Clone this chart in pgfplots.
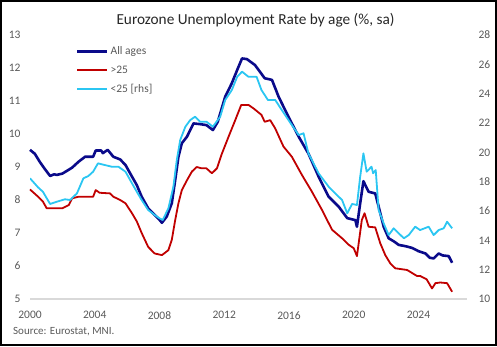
\documentclass[border=0pt]{standalone}
\usepackage{pgfplots}
\pgfplotsset{compat=1.18}
\usepackage{fontspec}
\setmainfont{Carlito}
\definecolor{navy}{HTML}{0A0A8A}
\definecolor{dred}{HTML}{C00000}
\definecolor{cyanl}{HTML}{2BC6F2}
\definecolor{tickgray}{HTML}{595959}
\definecolor{axgray}{HTML}{D9D9D9}
\begin{document}
\begin{tikzpicture}[x=1pt,y=1pt]
\useasboundingbox (0,0) rectangle (497,346);
\draw[line width=2pt,black] (1,1) rectangle (496,345);
\begin{axis}[
  at={(30pt,47pt)}, anchor=south west,
  scale only axis, width=437pt, height=264pt,
  xmin=2000, xmax=2027, ymin=5, ymax=13,
  xtick={2000,2004,...,2024}, ytick={5,6,...,13},
  xticklabel style={/pgf/number format/1000 sep={}, font=\fontsize{11.5}{13}\selectfont, text=tickgray, yshift=-9pt},
  yticklabel style={font=\fontsize{11.5}{13}\selectfont, text=tickgray, xshift=-6pt},
  /pgf/number format/assume math mode=true,
  axis y line*=left, axis x line*=bottom,
  y axis line style={draw=none},
  x axis line style={draw=axgray, line width=1.2pt},
  tick style={draw=none},
  clip=false,
  legend style={draw=none, fill=none, at={(0.105,0.964)}, anchor=north west,
    font=\fontsize{11.5}{13}\selectfont, text=tickgray, row sep=5.5pt, inner sep=0pt},
  legend cell align=left,
  legend image code/.code={\draw[#1] (0pt,0pt) -- (30pt,0pt);},
]
\addlegendimage{navy, line width=2.6pt}
\addlegendentry{All ages}
\addlegendimage{dred, line width=1.8pt}
\addlegendentry{\textgreater25}
\addlegendimage{cyanl, line width=1.8pt}
\addlegendentry{\textless25 [rhs]}
\addplot[forget plot, navy, line width=2.6pt, line join=round] coordinates {
(2000.0,9.52)(2000.3,9.4)(2000.6,9.16)(2000.9,8.95)(2001.24,8.73)(2001.5,8.78)(2001.65,8.76)(2002.0,8.8)(2002.27,8.88)(2002.6,8.98)(2003.0,9.16)(2003.4,9.31)(2003.9,9.31)(2004.06,9.5)(2004.4,9.5)(2004.5,9.42)(2004.8,9.52)(2005.15,9.31)(2005.57,9.23)(2005.9,9.06)(2006.3,8.71)(2006.6,8.45)(2006.9,8.1)(2007.3,7.75)(2007.7,7.55)(2008.0,7.4)(2008.15,7.31)(2008.45,7.5)(2008.76,7.9)(2008.97,8.6)(2009.17,9.31)(2009.38,9.72)(2009.7,9.92)(2010.1,10.32)(2010.5,10.3)(2010.9,10.27)(2011.3,10.12)(2011.6,10.37)(2012.06,11.13)(2012.47,11.54)(2012.8,11.94)(2013.1,12.29)(2013.4,12.27)(2013.9,12.09)(2014.5,11.69)(2014.95,11.64)(2015.36,11.13)(2015.97,10.52)(2016.6,9.92)(2017.2,9.41)(2017.83,8.71)(2018.45,8.1)(2019.07,7.8)(2019.6,7.45)(2020.1,7.39)(2020.2,7.19)(2020.4,7.9)(2020.6,8.57)(2020.92,8.25)(2021.33,8.2)(2021.54,7.8)(2021.85,7.19)(2022.16,6.84)(2022.5,6.74)(2022.78,6.64)(2023.2,6.6)(2023.6,6.55)(2024.0,6.45)(2024.43,6.38)(2024.7,6.25)(2024.94,6.23)(2025.25,6.38)(2025.5,6.32)(2025.87,6.3)(2026.08,6.1)
};
\addplot[forget plot, dred, line width=1.8pt, line join=round] coordinates {
(2000.0,8.32)(2000.5,8.1)(2000.8,7.95)(2001.03,7.75)(2002.0,7.75)(2002.4,7.85)(2002.6,8.05)(2003.0,8.1)(2003.9,8.1)(2004.06,8.3)(2004.3,8.22)(2004.95,8.2)(2005.15,8.1)(2005.57,8.0)(2005.9,7.9)(2006.3,7.6)(2006.6,7.35)(2006.9,7.0)(2007.3,6.58)(2007.7,6.38)(2008.15,6.33)(2008.55,6.48)(2008.76,6.79)(2008.97,7.39)(2009.17,7.9)(2009.38,8.3)(2009.7,8.6)(2010.0,8.86)(2010.3,9.0)(2010.6,8.96)(2010.9,8.96)(2011.24,8.81)(2011.55,8.96)(2011.86,9.41)(2012.27,9.92)(2012.68,10.42)(2013.05,10.88)(2013.5,10.88)(2013.8,10.78)(2014.3,10.58)(2014.5,10.37)(2014.84,10.42)(2015.15,10.17)(2015.66,9.62)(2016.18,9.31)(2016.8,8.76)(2017.42,8.25)(2018.04,7.7)(2018.66,7.1)(2019.28,6.84)(2019.7,6.64)(2020.0,6.54)(2020.2,6.3)(2020.5,7.39)(2020.67,7.6)(2020.92,7.19)(2021.33,7.17)(2021.64,6.69)(2021.95,6.33)(2022.26,6.08)(2022.57,5.93)(2023.3,5.88)(2023.9,5.7)(2024.1,5.7)(2024.5,5.6)(2024.84,5.32)(2025.05,5.48)(2025.35,5.5)(2025.77,5.48)(2026.08,5.22)
};
\end{axis}
\begin{axis}[
  at={(30pt,47pt)}, anchor=south west,
  scale only axis, width=437pt, height=264pt,
  xmin=2000, xmax=2027, ymin=10, ymax=28,
  ytick={10,12,...,28},
  axis y line*=right, axis x line=none,
  y axis line style={draw=none},
  tick style={draw=none},
  yticklabel style={font=\fontsize{11.5}{13}\selectfont, text=tickgray, xshift=8pt},
  /pgf/number format/assume math mode=true,
]
\addplot[cyanl, line width=1.8pt, line join=round] coordinates {
(2000.0,18.23)(2000.5,17.61)(2000.8,17.31)(2001.24,16.48)(2001.65,16.63)(2002.16,16.8)(2002.47,16.75)(2002.9,17.2)(2003.3,18.23)(2003.6,18.38)(2003.9,18.68)(2004.2,19.25)(2004.64,19.13)(2005.05,19.02)(2005.46,19.02)(2005.9,18.68)(2006.3,17.89)(2006.6,17.31)(2006.9,16.75)(2007.3,16.07)(2007.7,15.73)(2008.0,15.5)(2008.2,15.39)(2008.55,16.18)(2008.86,17.66)(2009.07,19.48)(2009.28,20.84)(2009.6,21.75)(2009.9,22.2)(2010.2,22.43)(2010.5,22.09)(2010.9,22.09)(2011.3,21.75)(2011.75,22.43)(2012.06,23.57)(2012.47,24.25)(2012.8,25.15)(2013.1,25.5)(2013.5,25.15)(2014.0,25.15)(2014.3,24.25)(2014.7,23.57)(2015.15,23.57)(2015.56,22.88)(2015.97,22.2)(2016.6,21.18)(2016.9,21.3)(2017.2,19.93)(2017.83,18.57)(2018.45,17.66)(2018.86,17.2)(2019.28,16.75)(2019.6,15.84)(2019.9,16.48)(2020.2,16.41)(2020.4,18.34)(2020.6,19.93)(2020.8,18.68)(2021.1,19.02)(2021.2,18.57)(2021.36,18.79)(2021.54,16.07)(2021.85,15.16)(2022.16,14.36)(2022.47,14.82)(2022.78,14.48)(2023.1,14.14)(2023.4,14.36)(2023.8,14.93)(2024.1,14.7)(2024.63,14.93)(2024.94,14.36)(2025.25,14.7)(2025.56,14.82)(2025.77,15.27)(2026.08,14.82)
};
\end{axis}
\node[anchor=base, font=\fontsize{15.3}{18}\selectfont, text={black!85}] at (255.5,321) {Eurozone Unemployment Rate by age (\%, sa)};
\node[anchor=base west, inner sep=0pt, font=\fontsize{11}{13}\selectfont, text=tickgray] at (13,12) {Source: Eurostat, MNI.};
\end{tikzpicture}
\end{document}
